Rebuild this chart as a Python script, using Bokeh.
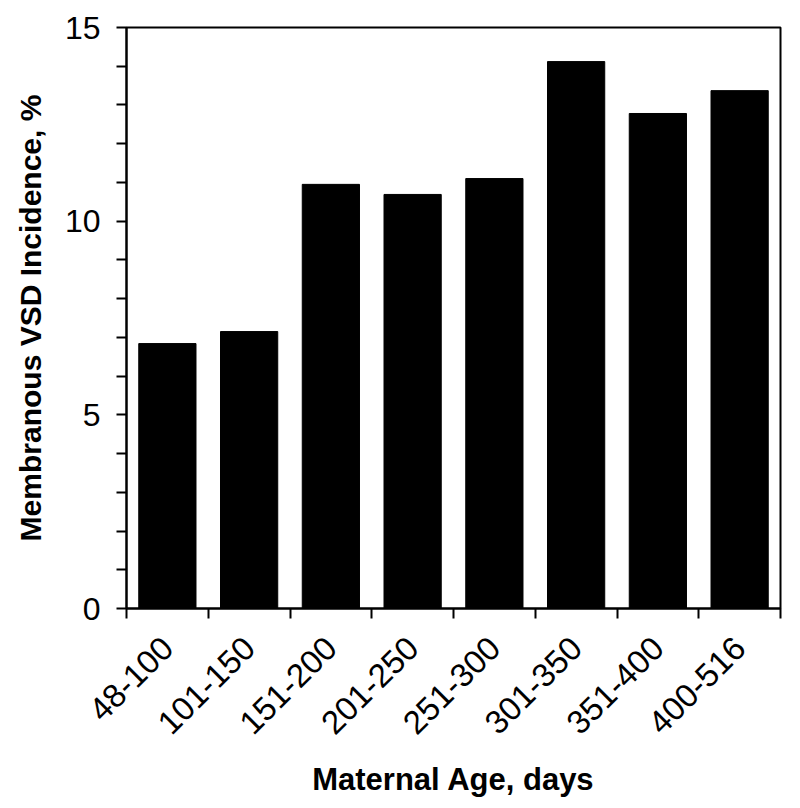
import math
from bokeh.plotting import figure
from bokeh.models import ColumnDataSource, FixedTicker, Range1d
from bokeh.embed import file_html
from bokeh.resources import INLINE

categories = ["48-100", "101-150", "151-200", "201-250", "251-300", "301-350", "351-400", "400-516"]
incidence = [6.84, 7.15, 10.95, 10.69, 11.1, 14.12, 12.78, 13.37]
y_major = [0, 5, 10, 15]
y_minor = [1, 2, 3, 4, 6, 7, 8, 9, 11, 12, 13, 14]

n = len(categories)
xc = [i + 0.5 for i in range(n)]
src = ColumnDataSource(dict(x=xc, top=incidence, cat=categories))

FONT = "Liberation Sans"

p = figure(width=800, height=808, output_backend="svg", toolbar_location=None,
           x_range=Range1d(0, n), y_range=Range1d(0, 15),
           min_border_left=126, min_border_right=20, min_border_top=27, min_border_bottom=200)

p.vbar(x="x", top="top", width=0.7, bottom=0, source=src,
       fill_color="black", line_color="black", line_width=1)

p.grid.visible = False
p.outline_line_color = "black"
p.outline_line_width = 2
p.outline_line_alpha = 1.0

# x axis
xa = p.xaxis[0]
xa.ticker = FixedTicker(ticks=xc, minor_ticks=list(range(n + 1)))
xa.major_label_overrides = {x: c for x, c in zip(xc, categories)}
xa.major_tick_line_color = None
xa.minor_tick_line_color = "black"
xa.minor_tick_line_width = 2
xa.minor_tick_in = 0
xa.minor_tick_out = 10
xa.major_tick_out = 10
xa.major_tick_in = 0
xa.major_label_orientation = math.pi / 4
xa.major_label_text_font = FONT
xa.major_label_text_font_size = "33px"
xa.major_label_text_color = "black"
xa.major_label_standoff = 24
xa.axis_line_width = 2
xa.axis_line_color = "black"
xa.axis_label = "Maternal Age, days"
xa.axis_label_text_font = FONT
xa.axis_label_text_font_style = "bold"
xa.axis_label_text_font_size = "31px"
xa.axis_label_text_color = "black"
xa.axis_label_standoff = 15

# y axis
ya = p.yaxis[0]
ya.ticker = FixedTicker(ticks=y_major, minor_ticks=y_minor)
ya.major_tick_line_color = "black"
ya.major_tick_line_width = 2
ya.major_tick_in = 0
ya.major_tick_out = 10
ya.minor_tick_line_color = "black"
ya.minor_tick_line_width = 2
ya.minor_tick_in = 0
ya.minor_tick_out = 10
ya.major_label_text_font = FONT
ya.major_label_text_font_size = "32px"
ya.major_label_text_color = "black"
ya.major_label_standoff = 16
ya.axis_line_width = 2
ya.axis_line_color = "black"
ya.axis_label = "Membranous VSD Incidence, %"
ya.axis_label_text_font = FONT
ya.axis_label_text_font_style = "bold"
ya.axis_label_text_font_size = "30px"
ya.axis_label_text_color = "black"
ya.axis_label_standoff = 15

open("out.html", "w").write(file_html(p, INLINE))
